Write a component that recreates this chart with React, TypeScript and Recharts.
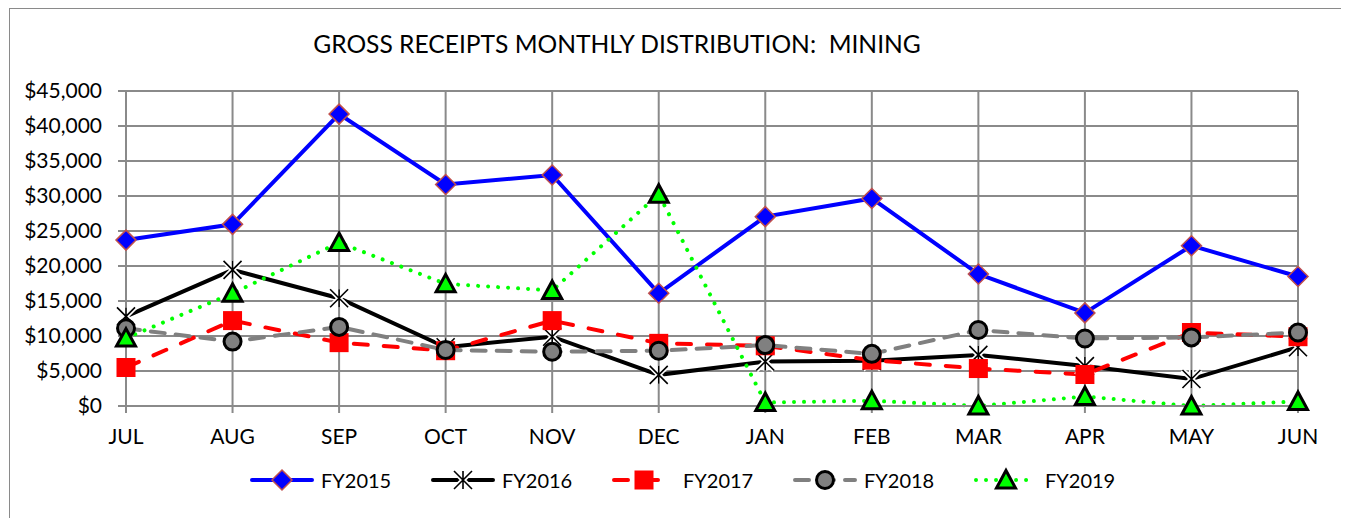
import React from 'react';
import { LineChart, Line, XAxis, YAxis, CartesianGrid, Legend } from 'recharts';

const months = ['JUL', 'AUG', 'SEP', 'OCT', 'NOV', 'DEC', 'JAN', 'FEB', 'MAR', 'APR', 'MAY', 'JUN'];
const fy2015 = [23700, 25950, 41700, 31650, 33000, 16100, 27050, 29650, 18850, 13300, 22900, 18500];
const fy2016 = [12800, 19450, 15400, 8400, 9900, 4450, 6350, 6450, 7300, 5700, 3850, 8400];
const fy2017 = [5500, 12200, 9050, 7900, 12200, 8950, 8600, 6550, 5350, 4500, 10500, 9900];
const fy2018 = [11100, 9200, 11300, 8000, 7750, 7900, 8700, 7450, 10850, 9650, 9800, 10500];
const fy2019 = [9700, 16100, 23350, 17450, 16500, 30250, 500, 750, 0, 1350, 0, 650];
const yTicks = [0, 5000, 10000, 15000, 20000, 25000, 30000, 35000, 40000, 45000];
const seriesNames = ['FY2015', 'FY2016', 'FY2017', 'FY2018', 'FY2019'];

const data = months.map((m, i) => ({
  month: m,
  FY2015: fy2015[i],
  FY2016: fy2016[i],
  FY2017: fy2017[i],
  FY2018: fy2018[i],
  FY2019: fy2019[i],
}));

const FONT = 'Lato, "Open Sans", sans-serif';
const GRID = '#8a8a8a';

type MarkerKind = 'diamond' | 'star' | 'square' | 'circle' | 'triangle';

const Marker = ({ kind, cx, cy }: { kind: MarkerKind; cx: number; cy: number }) => {
  if (kind === 'diamond') {
    return (
      <polygon
        points={`${cx},${cy - 10} ${cx + 10},${cy} ${cx},${cy + 10} ${cx - 10},${cy}`}
        fill="#0000FF"
        stroke="#C0504D"
        strokeWidth={1.5}
      />
    );
  }
  if (kind === 'star') {
    const s = 9;
    const d = `M${cx - s},${cy - s}L${cx + s},${cy + s}M${cx - s},${cy + s}L${cx + s},${cy - s}M${cx},${cy - s}L${cx},${cy + s}`;
    return (
      <g>
        <path d={d} stroke="#ffffff" strokeWidth={5} fill="none" />
        <path d={d} stroke="#000000" strokeWidth={1.6} fill="none" />
      </g>
    );
  }
  if (kind === 'square') {
    return <rect x={cx - 9.5} y={cy - 9.5} width={19} height={19} fill="#FF0000" />;
  }
  if (kind === 'circle') {
    return <circle cx={cx} cy={cy} r={8.5} fill="#808080" stroke="#000000" strokeWidth={3} />;
  }
  return (
    <polygon
      points={`${cx},${cy - 9.5} ${cx + 9.5},${cy + 8} ${cx - 9.5},${cy + 8}`}
      fill="#00FF00"
      stroke="#000000"
      strokeWidth={3}
      strokeLinejoin="miter"
    />
  );
};

const makeDot = (kind: MarkerKind) => (props: any) => {
  const { cx, cy, index } = props;
  if (cx == null || cy == null) return <g key={`${kind}-${index}`} />;
  return (
    <g key={`${kind}-${index}`}>
      <Marker kind={kind} cx={cx} cy={cy} />
    </g>
  );
};

const styles: Record<string, { stroke: string; dash?: string; cap: 'round' | 'butt'; kind: MarkerKind }> = {
  FY2015: { stroke: '#0000FF', cap: 'round', kind: 'diamond' },
  FY2016: { stroke: '#000000', cap: 'round', kind: 'star' },
  FY2017: { stroke: '#FF0000', dash: '14 16', cap: 'round', kind: 'square' },
  FY2018: { stroke: '#808080', dash: '14 11', cap: 'round', kind: 'circle' },
  FY2019: { stroke: '#00FF00', dash: '0.01 10', cap: 'round', kind: 'triangle' },
};

const LegendContent = () => (
  <div style={{ display: 'flex', paddingLeft: 239, fontFamily: FONT, fontSize: 20, color: '#000' }}>
    {seriesNames.map((n) => {
      const st = styles[n];
      return (
        <div key={n} style={{ width: 181, display: 'flex', alignItems: 'center' }}>
          <svg width={68} height={26} style={{ display: 'block' }}>
            <line
              x1={3}
              y1={13}
              x2={63}
              y2={13}
              stroke={st.stroke}
              strokeWidth={4}
              strokeDasharray={st.dash}
              strokeLinecap={st.cap}
            />
            <Marker kind={st.kind} cx={33} cy={13} />
          </svg>
          <span style={{ marginLeft: 4 }}>{n}</span>
        </div>
      );
    })}
  </div>
);

export default function App() {
  return (
    <div
      style={{
        position: 'relative',
        marginLeft: 1,
        width: 1334,
        height: 530,
        border: '1px solid #8a8a8a',
        boxSizing: 'border-box',
        background: '#fff',
      }}
    >
      <div
        style={{
          position: 'absolute',
          left: 607,
          top: 20,
          transform: 'translateX(-50%)',
          whiteSpace: 'pre',
          fontFamily: FONT,
          fontSize: 24.6,
          lineHeight: '30px',
          color: '#000',
        }}
      >
        {'GROSS RECEIPTS MONTHLY DISTRIBUTION:  MINING'}
      </div>
      <LineChart
        width={1332}
        height={509}
        data={data}
        margin={{ top: 82, right: 44, bottom: 72, left: 0 }}
      >
        <CartesianGrid stroke={GRID} strokeWidth={2} />
        <XAxis
          dataKey="month"
          height={40}
          tickSize={7}
          tickMargin={16}
          axisLine={{ stroke: GRID, strokeWidth: 2 }}
          tickLine={{ stroke: GRID, strokeWidth: 2 }}
          tick={{ fill: '#000', fontSize: 21, fontFamily: FONT }}
          interval={0}
        />
        <YAxis
          width={116}
          domain={[0, 45000]}
          ticks={yTicks}
          tickSize={8}
          tickMargin={16}
          axisLine={{ stroke: GRID, strokeWidth: 2 }}
          tickLine={{ stroke: GRID, strokeWidth: 2 }}
          tick={{ fill: '#000', fontSize: 21, fontFamily: FONT }}
          tickFormatter={(v: number) => `$${v.toLocaleString('en-US')}`}
          interval={0}
        />
        <Legend
          layout="horizontal"
          verticalAlign="middle"
          align="center"
          content={LegendContent}
          wrapperStyle={{ position: 'absolute', left: 0, top: 458, width: 1332 }}
        />
        {seriesNames.map((n) => {
          const st = styles[n];
          return (
            <Line
              key={n}
              type="linear"
              dataKey={n}
              stroke={st.stroke}
              strokeWidth={4}
              strokeDasharray={st.dash}
              strokeLinecap={st.cap}
              dot={makeDot(st.kind)}
              activeDot={false}
              isAnimationActive={false}
            />
          );
        })}
      </LineChart>
    </div>
  );
}
